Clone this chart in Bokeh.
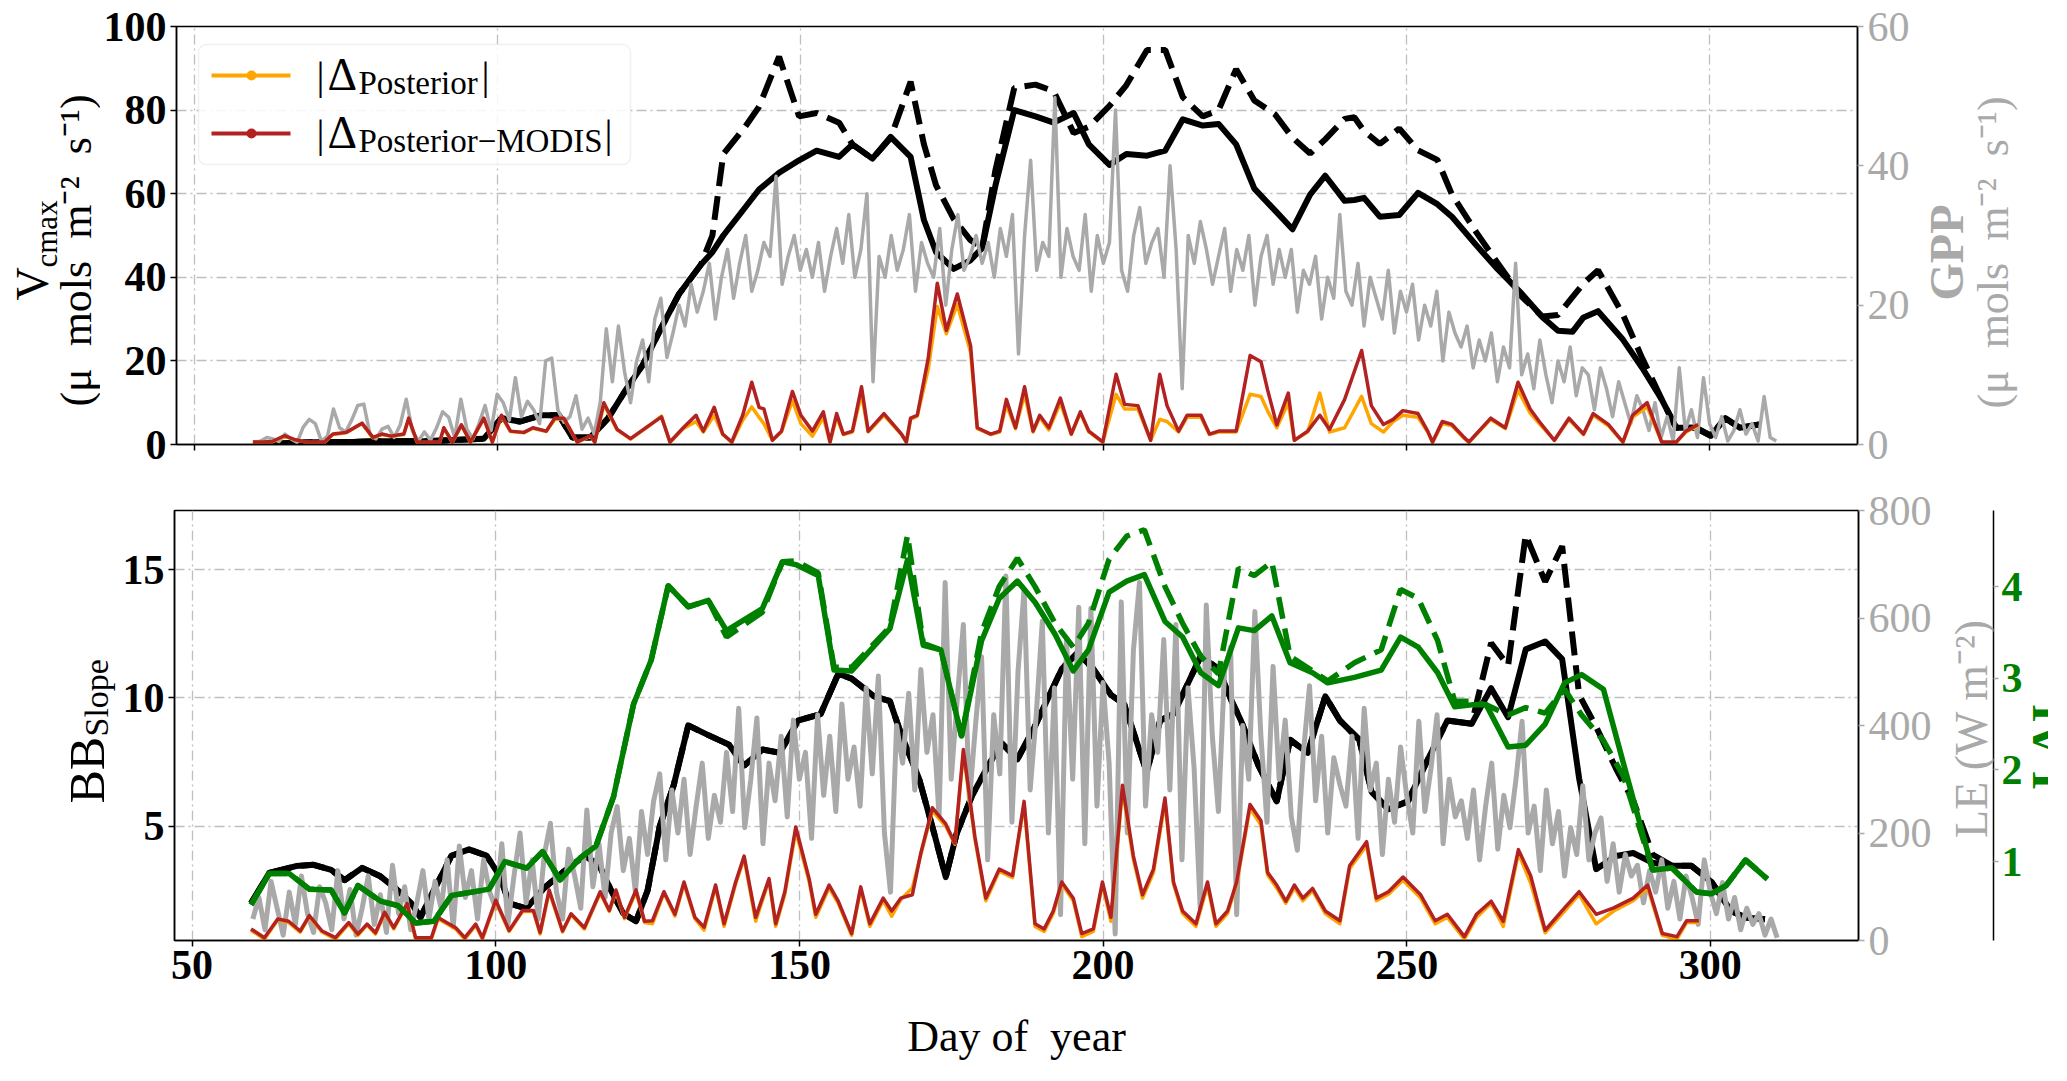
from math import pi

from bokeh.plotting import figure
from bokeh.models import Range1d, LinearAxis, FixedTicker, Label, BoxAnnotation
from bokeh.layouts import column, row
from bokeh.embed import file_html
from bokeh.resources import INLINE

FONT = "Liberation Serif"
GRAY = "#a9a9a9"
GREEN = "#008000"
ORANGE = "#ffa500"
RED = "#b22222"
NB = "\u00a0"

# ---------------- data ----------------
x_ticks = [50, 100, 150, 200, 250, 300]

# daily GPP (umol m-2 s-1), day 60 .. 311
gpp_first_day = 60
gpp = [
    0.3, 0.5, 1.0, 0.8, 0.4, 1.5, 0.8, 0.3, 2.5, 3.6,
    3.0, 0.5, 1.2, 5.1, 2.4, 1.8, 3.5, 5.6, 5.8, 1.5,
    0.8, 2.2, 2.6, 1.0, 2.8, 6.5, 2.0, 0.5, 1.8, 0.6,
    2.4, 4.7, 3.9, 1.0, 6.5, 2.2, 0.8, 3.0, 5.6, 2.0,
    7.2, 6.0, 3.5, 9.6, 4.0, 6.2, 5.0, 3.0, 12.0, 12.4,
    5.0, 3.2, 4.0, 7.0, 2.2, 3.8, 1.5, 6.0, 16.6, 9.0,
    17.0, 10.5, 6.0, 12.0, 15.0, 9.0, 18.0, 21.0, 12.5, 16.0,
    20.0, 17.0, 23.0, 19.0, 22.0, 26.0, 18.0, 24.0, 28.0, 21.0,
    26.0, 30.0, 22.0, 25.0, 29.0, 27.0, 38.5, 23.0, 27.0, 30.0,
    25.0, 28.0, 24.0, 29.0, 22.0, 27.0, 31.0, 26.0, 33.0, 24.0,
    28.0, 36.0, 9.0, 27.0, 24.0, 30.0, 25.0, 28.0, 33.0, 22.0,
    29.0, 26.0, 24.0, 31.0, 20.0, 28.0, 33.0, 25.0, 27.0, 30.0,
    26.0, 29.0, 24.0, 31.0, 27.0, 33.0, 13.0, 30.0, 40.8, 25.0,
    29.0, 27.0, 49.8, 24.0, 31.0, 27.0, 25.0, 33.0, 22.0, 30.0,
    26.0, 29.0, 48.0, 25.0, 22.0, 30.0, 34.0, 26.0, 29.0, 31.0,
    24.0, 40.0, 28.0, 8.0, 30.0, 26.0, 32.0, 28.0, 23.0, 27.0,
    31.0, 22.0, 28.0, 25.0, 30.0, 20.0, 27.0, 30.0, 23.0, 28.0,
    24.0, 28.0, 19.0, 25.0, 23.0, 27.0, 18.0, 24.0, 21.0, 33.0,
    22.0, 20.0, 26.0, 17.0, 24.0, 21.0, 18.0, 25.0, 16.0, 22.0,
    19.0, 23.0, 15.0, 20.0, 17.0, 22.0, 12.0, 19.0, 16.0, 14.0,
    17.0, 11.0, 15.0, 12.0, 16.0, 9.0, 14.0, 11.0, 26.0, 10.0,
    13.0, 8.0, 15.0, 10.0, 6.0, 12.0, 9.0, 14.0, 7.0, 11.0,
    10.0, 5.0, 11.0, 8.0, 4.0, 9.0, 6.0, 3.0, 7.0, 5.0,
    2.0, 6.0, 1.0, 4.0, 0.5, 11.0, 2.0, 5.0, 1.0, 9.6,
    3.0, 1.0, 4.0, 0.5, 2.0, 5.0, 1.5, 3.0, 0.5, 6.9,
    1.0, 0.5,
]

# daily LE (W m-2), day 60 .. 311
le_first_day = 60
le = [
    40, 80, 20, 110, 60, 10, 90, 30, 120, 50,
    15, 100, 70, 20, 130, 40, 95, 10, 60, 120,
    30, 85, 15, 140, 50, 100, 20, 70, 130, 40,
    110, 60, 150, 25, 176, 80, 130, 40, 150, 90,
    60, 180, 30, 120, 200, 70, 150, 40, 160, 218,
    90, 40, 170, 120, 60, 243, 100, 180, 80, 200,
    249, 130, 190, 90, 240, 160, 260, 310, 150, 280,
    200, 300, 160, 250, 330, 190, 270, 220, 350, 240,
    432, 210, 300, 414, 180, 330, 260, 380, 230, 410,
    300, 350, 190, 420, 270, 380, 240, 440, 300, 360,
    250, 470, 310, 492, 200, 90, 400, 330, 460, 280,
    504, 350, 420, 230, 666, 300, 450, 588, 260, 400,
    528, 150, 420, 310, 678, 220, 500, 654, 280, 420,
    594, 200, 470, 48, 560, 300, 620, 180, 618, 250,
    480, 330, 12, 630, 200, 540, 666, 250, 420, 350,
    560, 280, 588, 150, 470, 320, 60, 624, 380, 240,
    500, 546, 48, 400, 300, 612, 380, 220, 510, 300,
    410, 230, 168, 350, 474, 260, 380, 200, 340, 290,
    250, 380, 190, 432, 280, 330, 160, 300, 220, 360,
    270, 200, 408, 240, 320, 420, 180, 300, 230, 260,
    190, 280, 150, 250, 330, 170, 270, 210, 300, 408,
    200, 250, 130, 280, 180, 240, 120, 210, 160, 288,
    150, 200, 228, 110, 180, 90, 160, 120, 140, 70,
    130, 90, 150, 60, 110, 40, 120, 80, 30, 150,
    90, 50, 108, 40, 80, 20, 60, 30, 50, 10,
    40, 5,
]

# Vcmax, solid and dashed black
vc_days = [
    60, 64, 68, 72, 76, 80, 84, 88, 92, 97.8,
    100.7, 103.7, 107.3, 110.2, 112.4, 115.4, 118.3, 121.2, 124, 127.1,
    130, 133.6, 135.5, 137.3, 140.9, 143.2, 146.5, 149.8, 152.7, 156.4,
    158.6, 161.9, 164.9, 168.2, 170.4, 172.4, 175.3, 178, 180, 182.2,
    185.3, 188.8, 191.8, 195.1, 197.6, 201, 203.8, 207.2, 210.2, 213.1,
    216.4, 219, 221.9, 224.9, 228.3, 231.2, 234.1, 236.6, 239.8, 241.4,
    243, 245.6, 248.8, 251.9, 255.1, 257.5, 261.5, 265, 268.8, 272.4,
    275, 277.4, 279.2, 281.6, 285.7, 288.9, 292.1, 294.5, 297.7, 300.2,
    302.6, 305, 308.2,
]
vc_solid = [
    0.3, 0.3, 0.5, 0.6, 0.6, 0.8, 0.8, 0.8, 1.0, 1.4,
    6.3, 5.5, 7.0, 7.0, 1.7, 1.7, 6.3, 13.0, 19.0, 28.0,
    36.0, 43.0, 46.0, 50.0, 56.7, 61.0, 65.0, 68.0, 70.3, 68.8,
    71.8, 68.4, 73.6, 68.8, 53.7, 46.0, 42.0, 44.0, 47.0, 62.0,
    80.0, 78.5, 77.0, 79.3, 71.8, 66.9, 69.5, 69.1, 70.3, 77.8,
    76.3, 76.7, 71.8, 61.2, 56.0, 51.5, 59.8, 64.3, 58.3, 58.5,
    59.0, 54.5, 54.9, 60.2, 57.5, 54.5, 47.7, 42.0, 36.4, 30.5,
    27.2, 27.0, 30.4, 31.9, 25.1, 18.3, 10.8, 4.0, 4.0, 2.1,
    6.3, 4.0, 4.8,
]
vc_dashed = [
    0.3, 0.3, 0.5, 0.6, 0.6, 0.8, 0.8, 0.8, 1.0, 1.4,
    6.3, 5.5, 7.0, 7.0, 1.7, 1.7, 6.3, 13.0, 19.0, 28.0,
    36.0, 43.0, 50.0, 69.5, 76.0, 80.8, 92.8, 78.5, 79.3, 77.0,
    71.8, 68.4, 73.3, 86.8, 71.8, 62.0, 54.0, 49.0, 47.0, 65.7,
    85.3, 86.1, 84.5, 74.5, 76.0, 81.0, 86.0, 94.4, 94.4, 83.1,
    78.5, 80.0, 89.8, 82.3, 79.0, 73.4, 69.6, 73.0, 77.9, 78.3,
    75.0, 71.9, 75.6, 70.4, 68.1, 59.8, 50.8, 43.5, 35.7, 30.6,
    31.0, 35.3, 38.5, 41.7, 31.1, 20.6, 10.8, 4.0, 4.0, 2.1,
    6.3, 4.0, 4.8,
]

# |Delta| of Vcmax
dv_days = [
    59.7, 62.7, 64.9, 66.5, 68.5, 71.5, 72.9, 75.1, 77.7, 79.5,
    81.0, 82.5, 84.6, 85.4, 86.8, 90.5, 91.2, 92.6, 94.1, 95.6,
    97.8, 99.2, 100.7, 102.2, 104.4, 105.9, 108.1, 109.5, 111.0, 113.2,
    115.4, 116.1, 117.6, 119.8, 122.0, 124.9, 127.1, 128.5, 130.7, 132.8,
    134.0, 135.8, 137.2, 138.7, 140.5, 142.0, 143.2, 144.0, 145.4, 146.9,
    148.7, 150.1, 152.0, 153.8, 154.9, 156.0, 157.1, 158.6, 160.1, 161.2,
    163.8, 166.7, 167.5, 168.2, 169.3, 171.1, 172.6, 174.1, 175.9, 178.1,
    179.2, 181.4, 182.9, 184.0, 185.5, 187.0, 188.4, 189.5, 191.0, 192.9,
    194.7, 196.2, 197.6, 199.9, 202.1, 203.5, 205.7, 207.8, 209.3, 210.5,
    212.4, 213.8, 216.1, 217.5, 219.0, 221.9, 224.2, 226.0, 227.1, 228.6,
    230.5, 231.5, 233.7, 235.7, 237.3, 239.8, 242.6, 244.2, 246.2, 247.8,
    249.4, 251.9, 253.5, 254.3, 255.9, 257.5, 259.5, 260.3, 263.9, 266.3,
    268.4, 270.4, 271.9, 274.4, 276.8, 279.2, 280.8, 283.3, 285.7, 287.3,
    289.7, 292.1, 294.5, 296.1, 298.1,
]
dv_posterior = [
    0.6, 0.5, 2.0, 1.2, 0.5, 0.5, 2.4, 2.8, 5.0, 1.6,
    2.4, 2.0, 2.4, 6.1, 0.5, 0.5, 3.9, 0.5, 4.6, 0.5,
    6.2, 0.5, 6.8, 3.1, 2.8, 3.9, 3.1, 6.0, 6.2, 0.5,
    2.0, 0.5, 9.5, 3.5, 1.3, 4.3, 6.8, 0.5, 3.8, 5.5,
    3.0, 7.0, 2.4, 0.5, 5.8, 9.0, 6.5, 5.0, 1.0, 3.0,
    10.5, 5.0, 2.0, 6.5, 0.5, 6.5, 2.4, 3.0, 12.0, 3.0,
    7.0, 2.4, 0.5, 6.0, 6.8, 18.0, 33.0, 26.5, 33.5, 22.0,
    3.8, 2.4, 3.0, 9.5, 3.8, 12.0, 3.0, 6.5, 3.5, 10.0,
    2.4, 7.5, 3.0, 0.5, 12.0, 8.5, 8.5, 1.0, 6.0, 5.5,
    3.0, 6.5, 6.5, 2.4, 3.0, 3.0, 12.0, 11.5, 8.0, 4.0,
    10.0, 1.0, 3.0, 12.3, 3.0, 4.0, 11.5, 5.0, 3.0, 5.5,
    7.0, 6.5, 3.0, 0.5, 5.0, 4.5, 1.5, 0.5, 6.0, 3.8,
    13.0, 7.5, 5.0, 1.0, 6.0, 2.4, 7.0, 4.5, 0.5, 6.5,
    9.0, 0.5, 0.5, 3.0, 4.5,
]
dv_modis = [
    0.6, 0.6, 2.1, 1.2, 0.6, 0.6, 2.5, 2.9, 5.1, 1.7,
    2.5, 2.0, 2.5, 6.3, 0.6, 0.6, 4.0, 0.6, 4.7, 0.6,
    6.3, 0.6, 7.0, 3.2, 2.9, 4.0, 3.2, 6.3, 6.3, 0.6,
    2.1, 0.6, 10.0, 3.6, 1.4, 4.4, 6.6, 0.6, 4.0, 7.0,
    3.2, 8.9, 2.5, 0.6, 7.0, 14.9, 8.9, 8.5, 1.0, 3.2,
    12.7, 7.0, 3.2, 7.8, 0.6, 7.4, 2.5, 3.2, 13.8, 3.2,
    7.4, 2.5, 0.6, 6.3, 7.0, 20.6, 38.6, 27.3, 36.0, 23.6,
    4.0, 2.5, 3.2, 10.8, 4.0, 13.8, 3.2, 7.0, 4.0, 11.1,
    2.5, 7.8, 3.2, 0.6, 16.8, 9.6, 9.3, 1.0, 16.8, 9.3,
    3.2, 7.0, 7.0, 2.5, 3.2, 3.2, 21.3, 19.8, 13.0, 4.7,
    12.3, 1.0, 3.2, 7.0, 3.6, 10.8, 22.5, 9.3, 4.8, 6.0,
    8.1, 7.4, 3.2, 0.6, 5.5, 4.8, 1.7, 0.6, 6.3, 4.0,
    14.9, 8.5, 5.5, 1.0, 6.3, 2.5, 7.4, 4.8, 0.6, 7.0,
    10.0, 0.6, 0.6, 3.2, 4.8,
]

# Ball-Berry slope, solid and dashed black
bb_days = [
    59.7, 62.7, 67.1, 70.0, 72.9, 75.1, 78.0, 81.0, 83.5, 86.1,
    87.6, 89.8, 92.7, 95.6, 98.5, 100.7, 102.2, 105.0, 108.0, 111.0,
    114.6, 117.0, 119.0, 121.0, 123.1, 125.0, 127.0, 129.3, 131.7, 135.0,
    138.4, 140.9, 143.9, 146.8, 149.8, 153.5, 156.4, 158.6, 162.3, 164.9,
    166.7, 169.7, 172.2, 174.1, 175.9, 178.5, 181.4, 183.3, 185.9, 189.0,
    193.2, 195.8, 198.4, 201.3, 203.5, 207.2, 209.4, 211.6, 216.1, 219.0,
    221.2, 222.7, 225.6, 228.6, 230.8, 233.7, 236.6, 239.0, 242.2, 244.2,
    247.0, 250.2, 253.5, 256.7, 260.7, 263.9, 266.7, 269.6, 272.8, 275.6,
    278.4, 281.2, 284.5, 287.3, 290.5, 293.7, 296.9, 300.2, 303.4, 305.8,
    309.0,
]
bb_solid = [
    2.0, 3.18, 3.45, 3.5, 3.3, 2.9, 3.38, 3.05, 2.58, 2.0,
    1.45, 2.5, 3.85, 4.1, 3.85, 3.05, 2.0, 1.8, 2.6, 3.2,
    3.85, 3.5, 2.5, 1.6, 1.3, 2.5, 5.0, 6.6, 8.93, 8.55,
    8.18, 7.36, 7.99, 7.86, 9.12, 9.37, 10.94, 10.75, 10.06, 9.87,
    8.62, 6.86, 4.72, 3.02, 4.72, 6.23, 7.48, 8.24, 7.61, 9.0,
    11.13, 11.76, 11.13, 10.12, 9.75, 7.1, 9.12, 9.37, 11.63, 11.13,
    9.87, 9.12, 7.36, 5.97, 8.37, 7.86, 10.06, 9.12, 8.37, 6.35,
    5.66, 5.97, 7.61, 9.12, 8.99, 10.38, 9.25, 11.89, 12.2, 11.51,
    6.86, 3.33, 3.84, 3.96, 3.58, 3.46, 3.46, 2.83, 1.7, 1.45,
    1.38,
]
bb_dashed = [
    2.0, 3.18, 3.45, 3.5, 3.3, 2.9, 3.38, 3.05, 2.58, 2.0,
    1.45, 2.5, 3.85, 4.1, 3.85, 3.05, 2.0, 1.8, 2.6, 3.2,
    3.85, 3.5, 2.5, 1.6, 1.3, 2.5, 5.0, 6.6, 8.93, 8.55,
    8.18, 7.36, 7.99, 7.86, 9.12, 9.37, 10.94, 10.75, 10.06, 9.87,
    8.62, 6.86, 4.72, 3.02, 4.72, 6.23, 7.48, 8.24, 7.61, 9.0,
    11.13, 11.76, 11.13, 10.12, 9.75, 7.1, 9.12, 9.37, 11.63, 11.13,
    9.87, 9.12, 7.36, 5.97, 8.37, 7.86, 10.06, 9.12, 8.37, 6.35,
    5.66, 5.97, 7.61, 9.12, 8.99, 12.14, 11.26, 16.35, 14.53, 15.91,
    10.12, 8.87, 7.23, 6.0, 3.9, 3.46, 3.46, 2.83, 1.7, 1.45,
    1.38,
]

# LAI, solid and dashed green
lai_days = [
    59.7, 62.7, 66.0, 69.3, 72.9, 75.1, 77.3, 81.0, 83.9, 86.8,
    89.8, 92.7, 96.3, 98.9, 101.5, 105.1, 107.7, 110.6, 113.9, 116.5,
    119.4, 122.7, 125.6, 128.4, 131.7, 135.0, 138.0, 143.9, 147.2, 149.4,
    153.1, 155.7, 158.6, 164.9, 167.8, 170.4, 173.3, 176.7, 180.0, 182.9,
    185.9, 188.8, 192.1, 195.1, 197.6, 201.0, 203.9, 206.8, 210.2, 213.1,
    216.1, 219.0, 222.3, 224.9, 227.8, 230.8, 234.5, 237.0, 241.4, 245.8,
    249.0, 251.9, 255.1, 257.9, 260.7, 263.1, 266.7, 269.6, 272.8, 276.0,
    278.8, 282.4, 285.7, 290.5, 293.7, 297.7, 300.2, 302.6, 305.8, 309.4,
]
lai_solid = [
    0.53, 0.87, 0.87, 0.70, 0.69, 0.44, 0.74, 0.57, 0.52, 0.33,
    0.35, 0.63, 0.67, 0.70, 1.00, 0.93, 1.11, 0.80, 1.04, 1.17,
    1.71, 2.72, 3.20, 4.01, 3.78, 3.85, 3.52, 3.76, 4.27, 4.24,
    4.12, 3.09, 3.08, 3.54, 4.29, 3.36, 3.31, 2.37, 3.41, 3.87,
    4.06, 3.83, 3.48, 3.08, 3.31, 3.94, 4.06, 4.13, 3.62, 3.45,
    3.06, 2.92, 3.55, 3.52, 3.68, 3.17, 3.06, 2.95, 3.01, 3.09,
    3.45, 3.34, 3.06, 2.69, 2.71, 2.71, 2.25, 2.27, 2.50, 2.95,
    3.04, 2.88, 2.07, 0.91, 0.93, 0.67, 0.65, 0.74, 1.02, 0.81,
]
lai_dashed = [
    0.53, 0.87, 0.87, 0.70, 0.69, 0.44, 0.74, 0.57, 0.52, 0.33,
    0.35, 0.63, 0.67, 0.70, 1.00, 0.93, 1.11, 0.80, 1.04, 1.17,
    1.71, 2.72, 3.20, 4.01, 3.78, 3.85, 3.45, 3.72, 4.27, 4.28,
    4.15, 3.12, 3.12, 3.56, 4.56, 3.38, 3.31, 2.37, 3.50, 4.00,
    4.31, 4.00, 3.60, 3.34, 3.60, 4.30, 4.55, 4.62, 4.00, 3.60,
    3.24, 3.05, 4.20, 4.12, 4.27, 3.24, 3.08, 2.97, 3.17, 3.31,
    3.97, 3.87, 3.41, 2.75, 2.75, 2.71, 2.60, 2.68, 2.62, 2.88,
    2.60, 2.32, 1.93, 0.91, 0.93, 0.67, 0.65, 0.74, 1.02, 0.81,
]

# |Delta| of BB slope
db_days = [
    59.7, 61.9, 64.1, 65.9, 67.8, 69.3, 71.4, 73.6, 75.8, 77.3,
    78.8, 80.2, 81.7, 83.2, 85.4, 86.8, 89.4, 90.5, 93.4, 94.9,
    96.7, 97.8, 100.0, 102.2, 104.4, 106.2, 107.3, 108.8, 111.0, 112.4,
    114.6, 117.2, 118.7, 119.8, 121.2, 123.1, 124.5, 125.8, 127.7, 129.5,
    131.0, 132.8, 134.3, 136.2, 137.6, 139.5, 140.9, 142.8, 145.0, 146.1,
    147.6, 149.4, 151.6, 152.7, 154.9, 156.4, 158.6, 160.1, 161.6, 163.8,
    165.2, 166.7, 168.6, 170.0, 171.9, 174.1, 175.6, 177.0, 178.9, 180.7,
    182.9, 185.1, 187.0, 188.8, 190.3, 191.8, 193.2, 195.1, 196.5, 198.4,
    199.9, 201.3, 203.2, 205.0, 206.5, 208.3, 210.2, 211.6, 213.1, 215.3,
    217.2, 218.6, 220.5, 222.0, 224.2, 226.0, 227.1, 228.6, 230.1, 231.5,
    232.9, 234.5, 236.6, 239.0, 240.6, 243.4, 245.0, 247.0, 249.4, 252.3,
    254.7, 256.7, 259.5, 261.5, 263.9, 265.9, 268.4, 270.4, 272.8, 276.0,
    278.4, 281.2, 284.1, 287.3, 289.7, 292.1, 294.5, 296.1, 298.1,
]
db_posterior = [
    0.95, 0.6, 1.35, 1.25, 0.88, 1.48, 0.88, 0.6, 1.2, 0.75,
    1.15, 0.8, 1.6, 1.0, 1.95, 0.6, 0.6, 1.4, 1.0, 0.6,
    1.15, 0.6, 2.05, 0.9, 1.68, 1.68, 0.8, 2.45, 0.88, 1.55,
    1.0, 2.4, 1.68, 2.45, 1.4, 2.45, 1.25, 1.2, 2.4, 1.5,
    2.75, 1.4, 0.95, 2.65, 1.1, 2.75, 3.75, 1.3, 2.9, 1.1,
    2.35, 4.8, 2.85, 1.45, 2.6, 2.0, 0.75, 2.55, 1.1, 2.1,
    1.5, 2.15, 2.6, 3.9, 5.6, 5.0, 4.3, 7.85, 4.5, 2.1,
    3.25, 3.0, 5.85, 1.1, 0.9, 1.6, 2.75, 2.1, 0.7, 0.9,
    2.75, 1.3, 6.45, 3.7, 2.2, 3.2, 5.95, 2.75, 1.6, 1.1,
    2.7, 1.1, 1.6, 2.75, 5.7, 5.05, 3.1, 2.6, 2.0, 2.6,
    2.1, 2.5, 1.6, 1.2, 3.35, 4.25, 2.1, 2.35, 2.9, 2.2,
    1.2, 1.45, 0.6, 1.45, 2.0, 1.1, 3.95, 2.8, 0.85, 1.7,
    2.35, 1.2, 1.7, 2.1, 2.6, 0.75, 0.6, 1.25, 1.25,
]
db_modis = [
    1.0, 0.66, 1.39, 1.3, 0.92, 1.52, 0.92, 0.66, 1.25, 0.8,
    1.19, 0.85, 1.65, 1.05, 1.99, 0.66, 0.66, 1.45, 1.05, 0.66,
    1.19, 0.66, 2.12, 0.94, 1.72, 1.72, 0.86, 2.52, 0.92, 1.59,
    1.05, 2.45, 1.72, 2.52, 1.45, 2.52, 1.3, 1.32, 2.45, 1.57,
    2.83, 1.45, 1.07, 2.71, 1.2, 2.83, 3.84, 1.45, 2.96, 1.2,
    2.45, 4.97, 2.96, 1.57, 2.71, 2.08, 0.82, 2.64, 1.2, 2.2,
    1.7, 2.2, 2.33, 3.96, 5.72, 5.09, 4.34, 7.99, 4.59, 2.2,
    3.33, 3.08, 5.97, 1.2, 1.0, 1.7, 2.83, 2.2, 0.82, 1.0,
    2.83, 1.45, 6.6, 3.84, 2.33, 3.33, 6.1, 2.83, 1.7, 1.2,
    2.83, 1.2, 1.7, 2.83, 5.85, 5.22, 3.2, 2.71, 2.08, 2.71,
    2.2, 2.58, 1.7, 1.32, 3.46, 4.4, 2.2, 2.45, 3.02, 2.33,
    1.32, 1.57, 0.7, 1.57, 2.08, 1.3, 4.09, 3.08, 0.95, 1.82,
    2.45, 1.57, 1.82, 2.2, 2.71, 0.82, 0.7, 1.32, 1.32,
]

gpp_days = [gpp_first_day + i for i in range(len(gpp))]
le_days = [le_first_day + i for i in range(len(le))]

# ---------------- helpers ----------------
X_RANGE = (47.1, 324.4)
TICK_FONT = "42px"


def style_axis(ax, ticks, color="black", tick_color="black", bold=False):
    ax.ticker = FixedTicker(ticks=ticks)
    ax.major_label_text_font = FONT
    ax.major_label_text_font_size = TICK_FONT
    ax.major_label_text_color = color
    ax.major_label_text_font_style = "bold" if bold else "normal"
    ax.major_label_standoff = 4
    ax.major_tick_in = 0
    ax.major_tick_out = 6
    ax.minor_tick_in = 0
    ax.minor_tick_out = 0
    ax.major_tick_line_color = tick_color
    ax.major_tick_line_width = 1.5
    ax.axis_line_color = "black"
    ax.axis_line_width = 1.5


def hide_labels(ax, ticks):
    ax.major_label_overrides = {t: "" for t in ticks}
    ax.major_label_text_font_size = "1px"


def style_fig(p, xt, yt):
    p.outline_line_color = "black"
    p.outline_line_width = 1.5
    p.outline_line_alpha = 1.0
    p.background_fill_color = "white"
    p.border_fill_color = "white"
    p.xgrid.ticker = FixedTicker(ticks=xt)
    p.ygrid.ticker = FixedTicker(ticks=yt)
    for g in (p.xgrid, p.ygrid):
        g.grid_line_color = "#b8b8b8"
        g.grid_line_dash = "10 4 2 4"
        g.grid_line_width = 1.3
        g.grid_line_alpha = 0.9


def text_fig(w, h, x_range=None, **borders):
    opts = dict(min_border=0)
    opts.update(borders)
    f = figure(width=w, height=h, x_range=x_range or Range1d(0, 1), y_range=Range1d(0, 1),
               toolbar_location=None, output_backend="svg",
               x_axis_location=None, y_axis_location=None, **opts)
    f.outline_line_color = None
    f.grid.visible = False
    f.background_fill_color = "white"
    f.border_fill_color = "white"
    return f


def text(p, x, y, s, size, color="black", bold=False, angle=0.0,
         align="left", x_units="screen"):
    # Bokeh sets the baseline about 0.2 em lower than asked; shift it back
    up = 0.2 * size
    if angle:
        x = x - up
    else:
        y = y + up
    p.add_layout(Label(x=x, y=y, x_units=x_units, y_units="screen", text=s,
                       angle=angle, text_font=FONT, text_font_size=f"{size}px",
                       text_color=color, text_align=align, text_baseline="alphabetic",
                       text_font_style="bold" if bold else "normal"))


def sbox(p, left, right, bottom, top, color, radius=0, line_color=None, alpha=1.0):
    p.add_layout(BoxAnnotation(left=left, right=right, bottom=bottom, top=top,
                               left_units="screen", right_units="screen",
                               bottom_units="screen", top_units="screen",
                               fill_color=color, fill_alpha=alpha,
                               line_color=line_color, line_width=1.5,
                               border_radius=radius))


UNITS = f"(μ {NB}mols {NB}m⁻² {NB}s⁻¹)"

# ---------------- top panel: Vcmax / GPP ----------------
H1 = 474
top = figure(width=1812, height=H1, x_range=Range1d(*X_RANGE), y_range=Range1d(0, 100),
             min_border_left=74, min_border_right=54, min_border_top=26,
             min_border_bottom=30, toolbar_location=None, output_backend="svg")
top.extra_y_ranges = {"gpp": Range1d(0, 60)}
style_fig(top, x_ticks, [0, 20, 40, 60, 80, 100])

top.line(vc_days, vc_solid, color="black", line_width=6, line_join="round")
top.line(vc_days, vc_dashed, color="black", line_width=6, line_dash="24 10")
top.line(gpp_days, gpp, color=GRAY, line_width=3.5, line_join="round", y_range_name="gpp")
top.line(dv_days, dv_posterior, color=ORANGE, line_width=3.5, line_join="round")
top.line(dv_days, dv_modis, color=RED, line_width=3.5, line_join="round")

style_axis(top.xaxis[0], x_ticks)
hide_labels(top.xaxis[0], x_ticks)
style_axis(top.yaxis[0], [0, 20, 40, 60, 80, 100], bold=True)
gpp_axis = LinearAxis(y_range_name="gpp")
style_axis(gpp_axis, [0, 20, 40, 60], color=GRAY, tick_color=GRAY)
top.add_layout(gpp_axis, "right")

# legend
sbox(top, 22, 454, 280, 400, "white", radius=8, line_color="#d0d0d0", alpha=0.85)
for yc, col in ((369, ORANGE), (311, RED)):
    sbox(top, 35, 114, yc - 2, yc + 2, col)
    sbox(top, 70, 80, yc - 5, yc + 5, col, radius=5)
text(top, 140, 361, "|", 40)
text(top, 151, 361, "Δ", 46)
text(top, 182, 355, "Posterior", 33)
text(top, 305, 361, "|", 40)
text(top, 140, 303, "|", 40)
text(top, 151, 303, "Δ", 46)
text(top, 182, 297, "Posterior−MODIS", 33)
text(top, 428, 303, "|", 40)

left1 = text_fig(100, H1)
text(left1, 41, 144, "V", 46, angle=pi / 2)
text(left1, 52, 177, "cmax", 31, angle=pi / 2)
text(left1, 85, 194, UNITS, 44, angle=pi / 2, align="center")

right1 = text_fig(136, H1)
text(right1, 44, 192, "GPP", 48, color=GRAY, bold=True, angle=pi / 2, align="center")
text(right1, 90, 192, UNITS, 44, color=GRAY, angle=pi / 2, align="center")

# ---------------- bottom panel: BB slope / LE / LAI ----------------
BT, BBOT = 36, 60
H2 = BT + 430 + BBOT
bot = figure(width=1822, height=H2, x_range=top.x_range, y_range=Range1d(0.55, 17.3),
             min_border_left=58, min_border_right=80, min_border_top=BT,
             min_border_bottom=BBOT, toolbar_location=None, output_backend="svg")
bot.extra_y_ranges = {"le": Range1d(0, 800), "lai": Range1d(0.14, 4.83)}
style_fig(bot, x_ticks, [5, 10, 15])

bot.line(bb_days, bb_solid, color="black", line_width=6, line_join="round")
bot.line(bb_days, bb_dashed, color="black", line_width=6, line_dash="24 10")
bot.line(le_days, le, color=GRAY, line_width=5, line_join="round", y_range_name="le")
bot.line(db_days, db_posterior, color=ORANGE, line_width=3.5, line_join="round")
bot.line(db_days, db_modis, color=RED, line_width=3.5, line_join="round")
bot.line(lai_days, lai_solid, color=GREEN, line_width=5.5, line_join="round", y_range_name="lai")
bot.line(lai_days, lai_dashed, color=GREEN, line_width=5.5, line_dash="22 10", y_range_name="lai")

style_axis(bot.xaxis[0], x_ticks, bold=True)
style_axis(bot.yaxis[0], [5, 10, 15], bold=True)

le_axis = LinearAxis(y_range_name="le")
style_axis(le_axis, [0, 200, 400, 600, 800], color=GRAY, tick_color=GRAY)
bot.add_layout(le_axis, "right")

left2 = text_fig(116, H2)
text(left2, 96, 137, "BB", 50, angle=pi / 2)
text(left2, 103, 204, "Slope", 34, angle=pi / 2)

# narrow strip that carries the LE title and the LAI axis
mid2 = text_fig(89, H2, min_border_top=BT, min_border_bottom=BBOT, min_border_right=34)
mid2.y_range = Range1d(0.14, 4.83)
lai_axis = LinearAxis()
style_axis(lai_axis, [1, 2, 3, 4], color=GREEN, tick_color=GRAY, bold=True)
lai_axis.major_tick_out = 5
lai_axis.major_label_standoff = 3
mid2.add_layout(lai_axis, "right")
text(mid2, 42, 212, "LE (W m⁻²)", 46, color=GRAY, angle=pi / 2, align="center")

right2 = text_fig(21, H2)
text(right2, 31, 194, "LAI", 48, color=GREEN, bold=True, angle=pi / 2, align="center")

# x title under the bottom panel, centred on the plotting frame
H3 = 1065 - H1 - H2
xlab = text_fig(2048, H3, x_range=top.x_range, min_border_left=174, min_border_right=190)
text(xlab, 842, 20, f"Day of {NB}year", 44, align="center")

layout = column(row(left1, top, right1), row(left2, bot, mid2, right2), xlab)
open("out.html", "w").write(file_html(layout, INLINE))
